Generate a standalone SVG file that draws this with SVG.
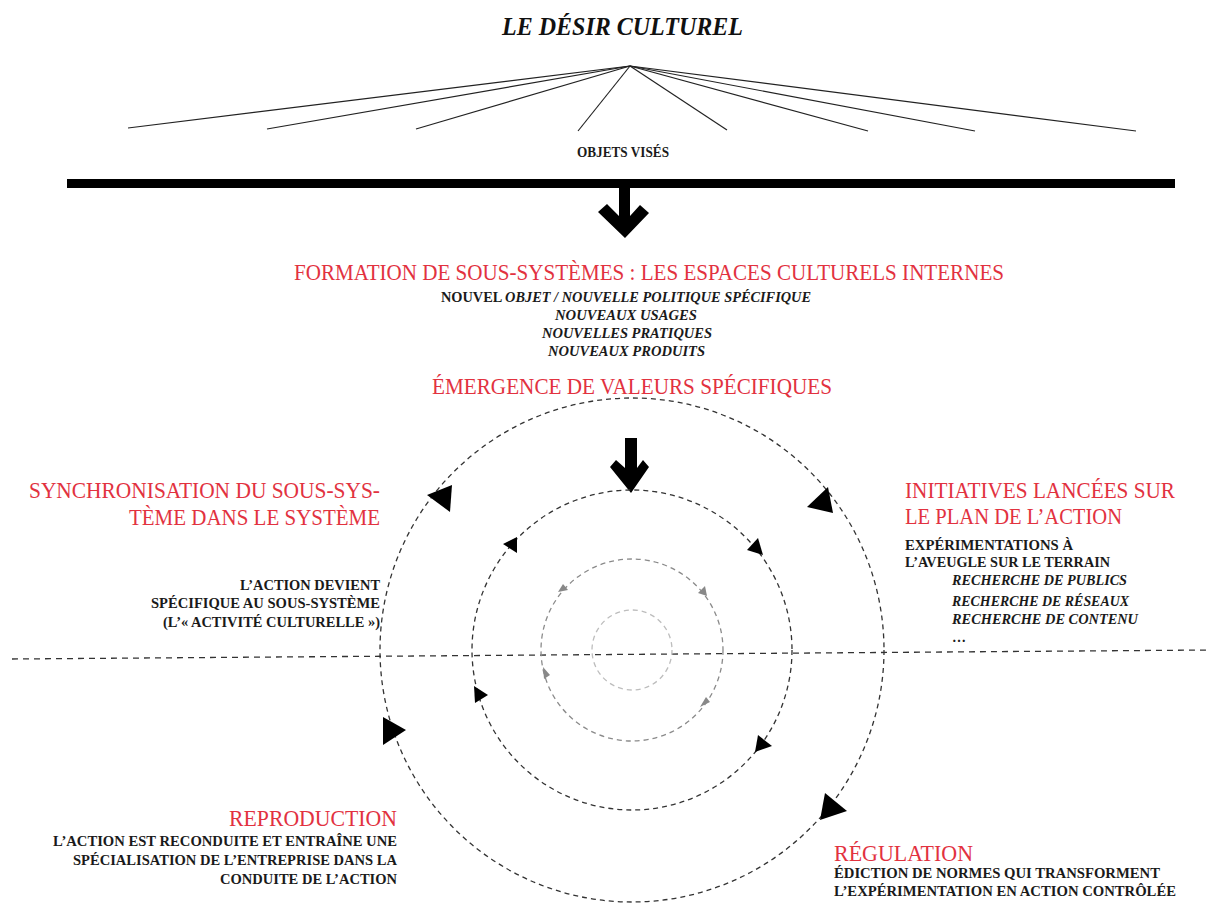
<svg xmlns="http://www.w3.org/2000/svg" width="1211" height="910" viewBox="0 0 1211 910">
<style>
text{font-family:"Liberation Serif","DejaVu Serif",serif}
.red{fill:#e2323f;font-size:22.5px}
.blk{fill:#1a1a1a;font-size:14px;font-weight:bold}
.it{fill:#1a1a1a;font-size:14px;font-weight:bold;font-style:italic}
.fan{stroke:#222;stroke-width:1.2;fill:none}
.c1{fill:none;stroke:#333;stroke-width:1.3;stroke-dasharray:5 4}
.c2{fill:none;stroke:#8a8a8a;stroke-width:1.3;stroke-dasharray:5 4}
.c3{fill:none;stroke:#bdbdbd;stroke-width:1.3;stroke-dasharray:5 4}
.ah{fill:#000}
.ag{fill:#888}
</style>
<rect width="1211" height="910" fill="#fff"/>

<g id="title">
<text x="502" y="35" font-size="26" font-weight="bold" font-style="italic" fill="#111" textLength="241" lengthAdjust="spacingAndGlyphs">LE DÉSIR CULTUREL</text>
</g>

<g id="connectors">
<g id="fan">
<line class="fan" x1="630" y1="66" x2="128" y2="128"/>
<line class="fan" x1="630" y1="66" x2="267" y2="129"/>
<line class="fan" x1="630" y1="66" x2="416" y2="129"/>
<line class="fan" x1="630" y1="66" x2="578" y2="131"/>
<line class="fan" x1="630" y1="66" x2="727" y2="130"/>
<line class="fan" x1="630" y1="66" x2="868" y2="131"/>
<line class="fan" x1="630" y1="66" x2="975" y2="131"/>
<line class="fan" x1="630" y1="66" x2="1136" y2="131"/>
</g>
<rect id="bar" x="67" y="179" width="1108" height="9" fill="#000"/>
<polygon id="arrow1" class="ah" points="619,187 630,187 630,216 640,205 649,213 625,238 598,212 607,204 619,216"/>
<polygon id="arrow2" class="ah" points="625,438 637,438 637,468 643,460 649,467 631,493 610,467 616,460 625,468"/>
<line id="axis" x1="12" y1="659" x2="1211" y2="650" stroke="#333" stroke-width="1.3" stroke-dasharray="6 5"/>
<g id="cycles">
<circle class="c1" cx="632" cy="650" r="252"/>
<circle class="c1" cx="632" cy="650" r="160"/>
<circle class="c2" cx="632" cy="650" r="91"/>
<circle class="c3" cx="632" cy="650" r="40"/>
<polygon class="ah" points="427,495 452,485 450,512"/>
<polygon class="ah" points="383,717 406,730 383,745"/>
<polygon class="ah" points="807,507 828,487 833,513"/>
<polygon class="ah" points="825,793 847,811 820,820"/>
<polygon class="ah" points="503,544 517,537 517,553"/>
<polygon class="ah" points="747,550 758,538 763,555"/>
<polygon class="ah" points="474,686 488,695 475,703"/>
<polygon class="ah" points="758,735 772,746 755,752"/>
<polygon class="ag" points="558,592 563,584 568,590"/>
<polygon class="ag" points="698,593 705,586 707,596"/>
<polygon class="ag" points="543,667 550,675 544,679"/>
<polygon class="ag" points="700,707 710,702 706,697"/>
</g>
</g>

<g id="objets">
<text x="577" y="157" class="blk" font-size="12.5" textLength="92" lengthAdjust="spacingAndGlyphs">OBJETS VISÉS</text>
</g>

<g id="formation">
<text x="294" y="280" class="red" textLength="710" lengthAdjust="spacingAndGlyphs">FORMATION DE SOUS-SYSTÈMES : LES ESPACES CULTURELS INTERNES</text>
<text x="441" y="302" class="blk" textLength="370" lengthAdjust="spacingAndGlyphs">NOUVEL <tspan font-style="italic">OBJET / NOUVELLE POLITIQUE SPÉCIFIQUE</tspan></text>
<text x="555" y="320" class="it" textLength="142" lengthAdjust="spacingAndGlyphs">NOUVEAUX USAGES</text>
<text x="542" y="338" class="it" textLength="170" lengthAdjust="spacingAndGlyphs">NOUVELLES PRATIQUES</text>
<text x="548" y="356" class="it" textLength="157" lengthAdjust="spacingAndGlyphs">NOUVEAUX PRODUITS</text>
</g>

<g id="emergence">
<text x="432" y="394" class="red" textLength="400" lengthAdjust="spacingAndGlyphs">ÉMERGENCE DE VALEURS SPÉCIFIQUES</text>
</g>

<g id="synchronisation">
<text x="29" y="498" class="red" textLength="351" lengthAdjust="spacingAndGlyphs">SYNCHRONISATION DU SOUS-SYS-</text>
<text x="129" y="525" class="red" textLength="251" lengthAdjust="spacingAndGlyphs">TÈME DANS LE SYSTÈME</text>
<text x="240" y="590" class="blk" textLength="140" lengthAdjust="spacingAndGlyphs">L’ACTION DEVIENT</text>
<text x="151" y="608" class="blk" textLength="229" lengthAdjust="spacingAndGlyphs">SPÉCIFIQUE AU SOUS-SYSTÈME</text>
<text x="163" y="627" class="blk" textLength="217" lengthAdjust="spacingAndGlyphs">(L’« ACTIVITÉ CULTURELLE »)</text>
</g>

<g id="initiatives">
<text x="905" y="498" class="red" textLength="270" lengthAdjust="spacingAndGlyphs">INITIATIVES LANCÉES SUR</text>
<text x="905" y="524" class="red" textLength="217" lengthAdjust="spacingAndGlyphs">LE PLAN DE L’ACTION</text>
<text x="905" y="550" class="blk" textLength="168" lengthAdjust="spacingAndGlyphs">EXPÉRIMENTATIONS À</text>
<text x="905" y="567" class="blk" textLength="205" lengthAdjust="spacingAndGlyphs">L’AVEUGLE SUR LE TERRAIN</text>
<text x="952" y="585" class="it" font-weight="normal" textLength="175" lengthAdjust="spacingAndGlyphs">RECHERCHE DE PUBLICS</text>
<text x="952" y="606" class="it" font-weight="normal" textLength="177" lengthAdjust="spacingAndGlyphs">RECHERCHE DE RÉSEAUX</text>
<text x="952" y="624" class="it" font-weight="normal" textLength="186" lengthAdjust="spacingAndGlyphs">RECHERCHE DE CONTENU</text>
<text x="952" y="642" class="blk">…</text>
</g>

<g id="reproduction">
<text x="229" y="826" class="red" textLength="168" lengthAdjust="spacingAndGlyphs">REPRODUCTION</text>
<text x="53" y="846" class="blk" textLength="344" lengthAdjust="spacingAndGlyphs">L’ACTION EST RECONDUITE ET ENTRAÎNE UNE</text>
<text x="73" y="865" class="blk" textLength="324" lengthAdjust="spacingAndGlyphs">SPÉCIALISATION DE L’ENTREPRISE DANS LA</text>
<text x="220" y="884" class="blk" textLength="177" lengthAdjust="spacingAndGlyphs">CONDUITE DE L’ACTION</text>
</g>

<g id="regulation">
<text x="834" y="861" class="red" textLength="139" lengthAdjust="spacingAndGlyphs">RÉGULATION</text>
<text x="834" y="878" class="blk" textLength="326" lengthAdjust="spacingAndGlyphs">ÉDICTION DE NORMES QUI TRANSFORMENT</text>
<text x="834" y="896" class="blk" textLength="342" lengthAdjust="spacingAndGlyphs">L’EXPÉRIMENTATION EN ACTION CONTRÔLÉE</text>
</g>
</svg>
